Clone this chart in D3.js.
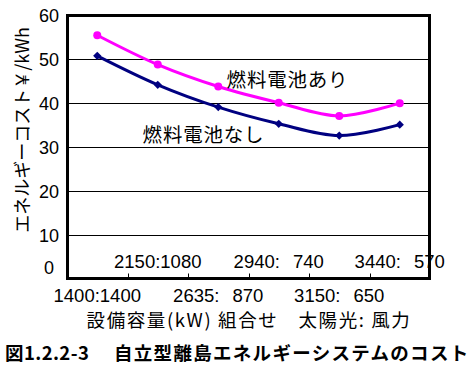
<!DOCTYPE html>
<html>
<head>
<meta charset="utf-8">
<script src="https://cdn.jsdelivr.net/npm/d3@7"></script>
<style>
  html, body { margin: 0; padding: 0; background: #fff; }
  svg { display: block; }
  text { white-space: pre; }
</style>
</head>
<body>
<script>
// ---- data ----
const categories = ["1400:1400", "2150:1080", "2635: 870", "2940: 740", "3150: 650", "3440: 570"];
const withFuelCell = [55.5, 48.8, 43.8, 40.1, 37.1, 40.0];
const withoutFuelCell = [50.8, 44.2, 39.1, 35.3, 32.6, 35.1];
const yTickValues = [0, 10, 20, 30, 40, 50, 60];
const seriesNames = ["燃料電池あり", "燃料電池なし"];
const yTitle = "エネルギーコスト￥/kWh";
const xTitle = "設備容量(kW) 組合せ　太陽光: 風力";
const captionParts = ["図1.2.2-3　", "自立型離島エネルギーシステムのコスト"];

// ---- layout ----
const W = 471, H = 374;
const pLeft = 67.5, pRight = 429.5, pTop = 15.5, pBottom = 278.5;
const LATIN = "'Liberation Sans', Arial, sans-serif";
const CJK = "'Noto Sans CJK JP', 'Noto Sans', sans-serif";

const svg = d3.select("body").append("svg").attr("width", W).attr("height", H);

const x = d3.scaleBand().domain(categories).range([pLeft - 0.5, pRight + 0.5]);
const y = d3.scaleLinear().domain([0, 60]).range([pBottom, pTop]);
const cx = d => x(d) + x.bandwidth() / 2;

// gridlines
svg.append("g").selectAll("line")
  .data(yTickValues.filter(v => v > 0 && v < 60))
  .join("line")
  .attr("x1", pLeft).attr("x2", pRight)
  .attr("y1", d => Math.round(y(d)) + 0.5).attr("y2", d => Math.round(y(d)) + 0.5)
  .attr("stroke", "#000").attr("stroke-width", 1);

// y axis labels
const yAxis = svg.append("g")
  .attr("transform", `translate(49,0)`)
  .call(d3.axisLeft(y).tickValues(yTickValues).tickSize(0).tickPadding(0));
yAxis.select(".domain").remove();
yAxis.selectAll("text")
  .attr("x", 0)
  .attr("text-anchor", "middle")
  .attr("dy", "0.36em")
  .attr("y", d => Math.min(0, (pBottom - 11) - y(d)))
  .style("font-family", LATIN).style("font-size", "18px").attr("fill", "#000");

// x axis labels (staggered)
const xAxis = svg.append("g")
  .attr("transform", `translate(0,${pBottom})`)
  .call(d3.axisBottom(x).tickSize(0).tickPadding(0));
xAxis.select(".domain").remove();
xAxis.selectAll("text")
  .attr("dy", null)
  .attr("y", (d, i) => i % 2 === 1 ? -10.5 : 23.5)
  .attr("text-anchor", "middle")
  .style("font-family", LATIN).style("font-size", "18.5px")
  .style("word-spacing", "8px")
  .attr("fill", "#000");

// inner tick marks at category boundaries
svg.append("g").selectAll("line")
  .data(categories.slice(1))
  .join("line")
  .attr("x1", d => Math.round(x(d)) + 0.5).attr("x2", d => Math.round(x(d)) + 0.5)
  .attr("y1", pBottom - 1.5).attr("y2", pBottom - 5)
  .attr("stroke", "#000").attr("stroke-width", 1);

// lines
const line = d3.line()
  .x((d, i) => cx(categories[i]))
  .y(d => y(d))
  .curve(d3.curveCatmullRom.alpha(0));

svg.append("path").datum(withFuelCell)
  .attr("d", line).attr("fill", "none")
  .attr("stroke", "#FF00FF").attr("stroke-width", 3);
svg.append("path").datum(withoutFuelCell)
  .attr("d", line).attr("fill", "none")
  .attr("stroke", "#000080").attr("stroke-width", 3);

// markers
svg.append("g").selectAll("circle")
  .data(withFuelCell)
  .join("circle")
  .attr("cx", (d, i) => cx(categories[i]))
  .attr("cy", d => y(d))
  .attr("r", 4)
  .attr("fill", "#FF00FF");

svg.append("g").selectAll("path")
  .data(withoutFuelCell)
  .join("path")
  .attr("d", d3.symbol(d3.symbolSquare, 34))
  .attr("transform", (d, i) => `translate(${cx(categories[i])},${y(d)}) rotate(45)`)
  .attr("fill", "#000080");

// series labels
svg.append("text")
  .attr("x", 287.5).attr("y", 78)
  .attr("text-anchor", "middle").attr("dominant-baseline", "central")
  .style("font-family", CJK).style("font-size", "19.5px")
  .style("letter-spacing", "0.8px").attr("fill", "#000")
  .text(seriesNames[0]);
svg.append("text")
  .attr("x", 203.5).attr("y", 133)
  .attr("text-anchor", "middle").attr("dominant-baseline", "central")
  .style("font-family", CJK).style("font-size", "19.5px")
  .style("letter-spacing", "0.8px").attr("fill", "#000")
  .text(seriesNames[1]);

// frame
svg.append("rect")
  .attr("x", pLeft).attr("y", pTop)
  .attr("width", pRight - pLeft).attr("height", pBottom - pTop)
  .attr("fill", "none").attr("stroke", "#000").attr("stroke-width", 3);

// y title
svg.append("text")
  .attr("transform", "translate(21,130) rotate(-90)")
  .attr("text-anchor", "middle").attr("dominant-baseline", "central")
  .style("font-family", CJK).style("font-size", "18px").attr("fill", "#000")
  .text(yTitle);

// x title
svg.append("text")
  .attr("x", 249).attr("y", 319)
  .attr("text-anchor", "middle").attr("dominant-baseline", "central")
  .style("font-family", CJK).style("font-size", "18.5px")
  .style("letter-spacing", "1.6px")
  .attr("fill", "#000")
  .text(xTitle);

// caption
const cap = svg.append("text")
  .attr("y", 351.5)
  .attr("text-anchor", "start").attr("dominant-baseline", "central")
  .style("font-family", CJK).style("font-size", "18.5px").style("font-weight", "bold").attr("fill", "#000");
cap.append("tspan").attr("x", 5).style("letter-spacing", "0.4px").text(captionParts[0]);
cap.append("tspan").attr("x", 114).style("letter-spacing", "1.3px").text(captionParts[1]);
</script>
</body>
</html>
